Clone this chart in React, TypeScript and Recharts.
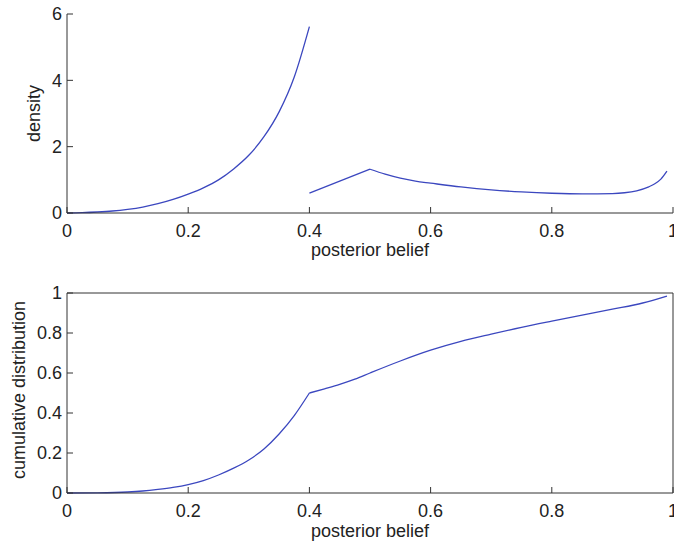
import React from "react";
import { LineChart, Line, XAxis, YAxis } from "recharts";

// density, lower branch (posterior below 0.4)
const densLowX = [0, 0.025, 0.05, 0.075, 0.1, 0.125, 0.15, 0.175, 0.2, 0.225, 0.25, 0.275, 0.3, 0.325, 0.35, 0.375, 0.4];
const densLowY = [0, 0.01, 0.03, 0.06, 0.11, 0.18, 0.28, 0.41, 0.57, 0.76, 1.0, 1.33, 1.74, 2.3, 3.05, 4.1, 5.62];

// density, upper branch: linear rise to the peak, then decay
const densRiseX = [0.4, 0.5];
const densRiseY = [0.6, 1.32];
const densHighX = [0.5, 0.525, 0.55, 0.575, 0.6, 0.65, 0.7, 0.75, 0.8, 0.85, 0.9, 0.92, 0.94, 0.96, 0.97, 0.98, 0.99];
const densHighY = [1.32, 1.17, 1.05, 0.96, 0.9, 0.785, 0.695, 0.635, 0.595, 0.575, 0.585, 0.61, 0.67, 0.79, 0.88, 1.02, 1.26];

// cumulative distribution
const cdfLowX = [0, 0.05, 0.1, 0.125, 0.15, 0.175, 0.2, 0.225, 0.25, 0.275, 0.3, 0.325, 0.35, 0.375, 0.4];
const cdfLowY = [0, 0.001, 0.005, 0.01, 0.018, 0.028, 0.042, 0.062, 0.09, 0.124, 0.165, 0.22, 0.295, 0.387, 0.5];
const cdfHighX = [0.4, 0.425, 0.45, 0.475, 0.5, 0.55, 0.6, 0.65, 0.7, 0.75, 0.8, 0.85, 0.9, 0.95, 0.99];
const cdfHighY = [0.5, 0.521, 0.543, 0.569, 0.6, 0.66, 0.714, 0.758, 0.794, 0.828, 0.859, 0.889, 0.919, 0.95, 0.985];

const xTicks = [0, 0.2, 0.4, 0.6, 0.8, 1];
const densTicks = [0, 2, 4, 6];
const cdfTicks = [0, 0.2, 0.4, 0.6, 0.8, 1];

const zip = (xs: number[], ys: number[]) => xs.map((x, i) => ({ x, y: ys[i] }));

const FONT = "'Liberation Sans', Arial, Helvetica, sans-serif";
const FS = 18;
const BLUE = "#3b47bf";
const AXIS = "#333";
const tickStyle = { fontSize: FS, fill: "#222", fontFamily: FONT };
const fmt = (v: number) => String(v);
const blank = () => "";

const yLabel = (text: string, cx: number, dy = 0) => (props: any) => {
  const vb = props.viewBox;
  const cy = vb.y + vb.height / 2 + dy;
  return (
    <text
      x={cx}
      y={cy}
      transform={`rotate(-90 ${cx} ${cy})`}
      textAnchor="middle"
      dominantBaseline="central"
      fontSize={FS}
      fill="#222"
      fontFamily={FONT}
    >
      {text}
    </text>
  );
};

const xLabel = (text: string, baseline: number) => (props: any) => {
  const vb = props.viewBox;
  return (
    <text
      x={vb.x + vb.width / 2}
      y={vb.y + baseline}
      textAnchor="middle"
      fontSize={FS}
      fill="#222"
      fontFamily={FONT}
    >
      {text}
    </text>
  );
};

function DensityPlot() {
  return (
    <LineChart width={674} height={262} margin={{ top: 14, right: 1, bottom: 0, left: 0 }}>
      <XAxis
        type="number"
        dataKey="x"
        domain={[0, 1]}
        ticks={xTicks}
        interval={0}
        height={49}
        tickSize={-6}
        tickMargin={17}
        tickFormatter={fmt}
        tick={tickStyle}
        stroke={AXIS}
        label={{ content: xLabel("posterior belief", 43) }}
      />
      <YAxis
        type="number"
        domain={[0, 6]}
        ticks={densTicks}
        interval={0}
        width={67}
        tickSize={-6}
        tickMargin={11}
        tick={tickStyle}
        stroke={AXIS}
        label={{ content: yLabel("density", 34) }}
      />
      <Line data={zip(densLowX, densLowY)} dataKey="y" type="monotone" stroke={BLUE} strokeWidth={1.3} dot={false} isAnimationActive={false} />
      <Line data={zip(densRiseX, densRiseY)} dataKey="y" type="linear" stroke={BLUE} strokeWidth={1.3} dot={false} isAnimationActive={false} />
      <Line data={zip(densHighX, densHighY)} dataKey="y" type="monotone" stroke={BLUE} strokeWidth={1.3} dot={false} isAnimationActive={false} />
    </LineChart>
  );
}

function CdfPlot() {
  return (
    <LineChart width={674} height={283} margin={{ top: 30, right: 0, bottom: 0, left: 0 }}>
      <XAxis
        xAxisId="b"
        type="number"
        dataKey="x"
        domain={[0, 1]}
        ticks={xTicks}
        interval={0}
        height={52}
        tickSize={-6}
        tickMargin={17}
        tickFormatter={fmt}
        tick={tickStyle}
        stroke={AXIS}
        label={{ content: xLabel("posterior belief", 44) }}
      />
      <XAxis
        xAxisId="t"
        orientation="top"
        type="number"
        dataKey="x"
        domain={[0, 1]}
        ticks={xTicks}
        interval={0}
        height={1}
        tickSize={-6}
        tickFormatter={blank}
        stroke={AXIS}
      />
      <YAxis
        yAxisId="l"
        type="number"
        domain={[0, 1]}
        ticks={cdfTicks}
        interval={0}
        width={67}
        tickSize={-6}
        tickMargin={11}
        tick={tickStyle}
        stroke={AXIS}
        label={{ content: yLabel("cumulative distribution", 19, -3) }}
      />
      <YAxis
        yAxisId="r"
        orientation="right"
        type="number"
        domain={[0, 1]}
        ticks={cdfTicks}
        interval={0}
        width={1}
        tickSize={-6}
        tickFormatter={blank}
        stroke={AXIS}
      />
      <Line xAxisId="b" yAxisId="l" data={zip(cdfLowX, cdfLowY)} dataKey="y" type="monotone" stroke={BLUE} strokeWidth={1.3} dot={false} isAnimationActive={false} />
      <Line xAxisId="b" yAxisId="l" data={zip(cdfHighX, cdfHighY)} dataKey="y" type="monotone" stroke={BLUE} strokeWidth={1.3} dot={false} isAnimationActive={false} />
    </LineChart>
  );
}

export default function App() {
  return (
    <div style={{ position: "absolute", left: 0, top: 0, width: 674, height: 545, background: "#fff" }}>
      <DensityPlot />
      <CdfPlot />
    </div>
  );
}
